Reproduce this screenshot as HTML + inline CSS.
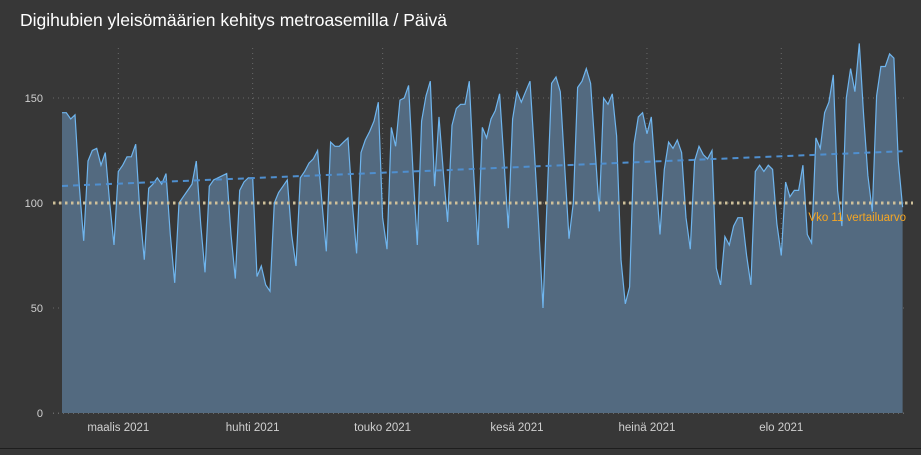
<!DOCTYPE html>
<html><head><meta charset="utf-8"><style>
html,body{margin:0;padding:0;background:#373737;}
body{width:921px;height:450px;overflow:hidden;font-family:"Liberation Sans",Arial,sans-serif;}
</style></head><body>
<svg id="chart" width="921" height="450" xmlns="http://www.w3.org/2000/svg">
<rect x="0" y="0" width="921" height="450" fill="#373737"/>
<line x1="0" y1="448.5" x2="921" y2="448.5" stroke="#1e1e1e" stroke-width="1"/>
<text x="20" y="26" fill="#ffffff" font-size="17.5">Digihubien yleisömäärien kehitys metroasemilla / Päivä</text>
<g id="grid"></g>
<g id="yaxis"></g>
<g id="xaxis"></g>
<g id="series"></g>
</svg>
<script>
const startDate = [2021, 1, 16];
const visitors = [
143,143,140,142,108,82,
120,125,126,118,124,100,80,
115,118,122,122,128,95,73,
107,109,112,109,114,85,62,
100,103,106,109,120,90,67,
108,111,112,113,114,85,64,
106,110,112,112,65,70,61,
58,100,105,108,111,85,70,
112,115,119,121,125,100,77,
129,127,127,129,131,100,76,
124,130,134,139,148,93,78,
136,127,149,150,156,115,80,
139,151,158,108,141,115,91,
137,145,147,147,158,115,80,
136,131,140,144,152,120,88,
140,153,148,153,158,125,90,50,
104,157,160,153,118,83,
100,155,158,164,157,126,96,
150,147,152,132,73,52,60,
128,141,143,133,141,113,85,
116,129,126,130,124,93,78,
120,127,123,121,125,69,61,
84,80,89,93,93,75,61,
115,118,115,118,116,90,75,
110,103,106,106,118,85,81,
131,126,143,148,161,106,89,
150,164,153,176,142,113,96,
151,165,165,171,169,120,98
];
const yTicks = [0,50,100,150];
const monthLabels = ["maalis 2021","huhti 2021","touko 2021","kesä 2021","heinä 2021","elo 2021"];
const monthStarts = [[2021,2,1],[2021,3,1],[2021,4,1],[2021,5,1],[2021,6,1],[2021,7,1]];
const referenceValue = [100];
const referenceLabel = ["Vko 11 vertailuarvo"];

const NS = "http://www.w3.org/2000/svg";
const X0 = 62, DX = 4.333, Y0 = 413, KY = 2.1;
const t0 = Date.UTC(startDate[0], startDate[1], startDate[2]);
function xDay(i){ return X0 + i * DX; }
function xDate(d){ return xDay((Date.UTC(d[0],d[1],d[2]) - t0) / 86400000); }
function yVal(v){ return Y0 - v * KY; }
function mk(tag, attrs, parent){
  const e = document.createElementNS(NS, tag);
  for (const k in attrs) e.setAttribute(k, attrs[k]);
  parent.appendChild(e); return e;
}
const grid = document.getElementById('grid');
const yaxis = document.getElementById('yaxis');
const xaxis = document.getElementById('xaxis');
const series = document.getElementById('series');
const xEnd = xDay(visitors.length - 1);

yTicks.forEach(v => {
  const l = mk('line', {x1:53, x2:906, y1:yVal(v), y2:yVal(v), stroke:'#6a6a6a', 'stroke-width':1, 'stroke-dasharray':'1 4'}, grid);
  
  
  const t = mk('text', {x:43, y:yVal(v)+4, 'text-anchor':'end', fill:'#d0d0d0', 'font-size':11}, yaxis);
  t.textContent = v;
  
  
});
monthStarts.forEach((d, i) => {
  const x = xDate(d);
  const l = mk('line', {x1:x, x2:x, y1:48, y2:Y0, stroke:'#6a6a6a', 'stroke-width':1, 'stroke-dasharray':'1 4'}, grid);
  
  
  const t = mk('text', {x:x, y:431, 'text-anchor':'middle', fill:'#d0d0d0', 'font-size':11.5}, xaxis);
  t.textContent = monthLabels[i];
  
  
});

let pts = visitors.map((v, i) => xDay(i).toFixed(1) + ',' + yVal(v).toFixed(1));
const area = mk('polygon', {points: X0 + ',' + Y0 + ' ' + pts.join(' ') + ' ' + xEnd.toFixed(1) + ',' + Y0, fill:'#536a80'}, series);


const line = mk('polyline', {points: pts.join(' '), fill:'none', stroke:'#6fb5ee', 'stroke-width':1.2}, series);


const base = mk('line', {x1:53, x2:906, y1:Y0+0.5, y2:Y0+0.5, stroke:'#6a6a6a', 'stroke-dasharray':'1 4'}, series);



// trend line (linear regression)
const n = visitors.length;
let sx=0, sy=0, sxx=0, sxy=0;
visitors.forEach((v,i)=>{ sx+=i; sy+=v; sxx+=i*i; sxy+=i*v; });
const b = (n*sxy - sx*sy) / (n*sxx - sx*sx);
const a = (sy - b*sx) / n;
const trend = mk('line', {x1:X0, y1:yVal(a), x2:xEnd, y2:yVal(a + b*(n-1)), stroke:'#4f8fcf', 'stroke-width':2, 'stroke-dasharray':'6 5'}, series);



const ref = mk('line', {x1:53, x2:913, y1:yVal(referenceValue[0]), y2:yVal(referenceValue[0]), stroke:'#cfc09a', 'stroke-width':3, 'stroke-dasharray':'2.5 3.5', 'stroke-linecap':'butt'}, series);


const rl = mk('text', {x:906, y:yVal(referenceValue[0])+18, 'text-anchor':'end', fill:'#f5a623', 'font-size':11.5}, series);
rl.textContent = referenceLabel[0];


</script>
</body></html>
